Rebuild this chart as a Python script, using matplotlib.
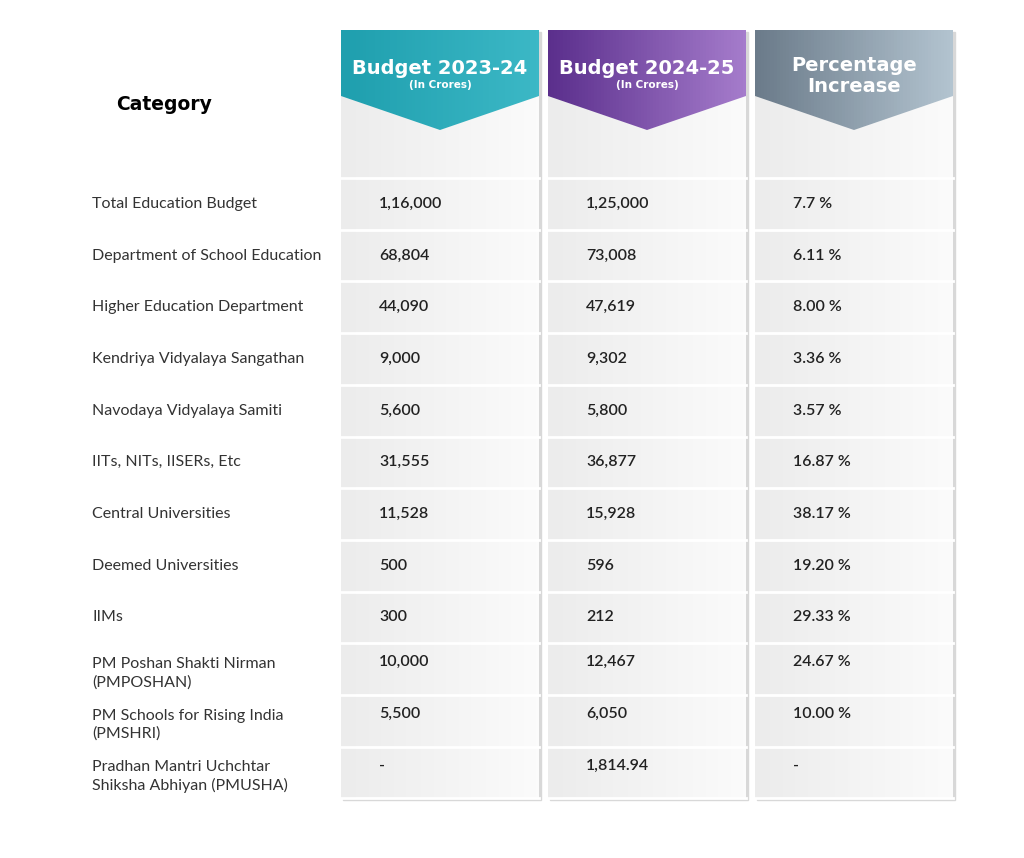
import numpy as np
import matplotlib.pyplot as plt
from matplotlib.patches import Polygon, Rectangle
from matplotlib.colors import LinearSegmentedColormap

categories = [
    "Total Education Budget", "Department of School Education",
    "Higher Education Department", "Kendriya Vidyalaya Sangathan",
    "Navodaya Vidyalaya Samiti", "IITs, NITs, IISERs, Etc",
    "Central Universities", "Deemed Universities", "IIMs",
    "PM Poshan Shakti Nirman\n(PMPOSHAN)", "PM Schools for Rising India\n(PMSHRI)",
    "Pradhan Mantri Uchchtar\nShiksha Abhiyan (PMUSHA)",
]
budget_2023 = ["1,16,000", "68,804", "44,090", "9,000", "5,600", "31,555",
               "11,528", "500", "300", "10,000", "5,500", "-"]
budget_2024 = ["1,25,000", "73,008", "47,619", "9,302", "5,800", "36,877",
               "15,928", "596", "212", "12,467", "6,050", "1,814.94"]
pct_increase = ["7.7 %", "6.11 %", "8.00 %", "3.36 %", "3.57 %", "16.87 %",
                "38.17 %", "19.20 %", "29.33 %", "24.67 %", "10.00 %", "-"]

headers = [("Budget 2023-24", "(In Crores)"), ("Budget 2024-25", "(In Crores)"),
           ("Percentage\nIncrease", None)]
head_colors = [("#1f9fae", "#3cb8c6"), ("#5b2f8c", "#a57ccc"), ("#6b7b8a", "#b3c4d0")]
col_x = [341, 548, 755]
col_w = 198
top, row0, row_h, n = 30, 178, 51.7, len(categories)
bottom = row0 + row_h * n

fig = plt.figure(figsize=(10.24, 8.58), dpi=100)
ax = fig.add_axes([0, 0, 1, 1])
ax.set_xlim(0, 1024)
ax.set_ylim(858, 0)
ax.axis("off")


def gradient(x0, x1, y0, y1, c0, c1, clip, z):
    cmap = LinearSegmentedColormap.from_list("g", [c0, c1])
    im = ax.imshow(np.linspace(0, 1, 64).reshape(1, -1), cmap=cmap, aspect="auto",
                   extent=(x0, x1, y1, y0), zorder=z)
    im.set_clip_path(clip)


for i, x in enumerate(col_x):
    # shadow
    ax.add_patch(Rectangle((x + 2, top + 2), col_w, bottom - top, color="#d8d8d8", zorder=1))
    body = Rectangle((x, top), col_w, bottom - top, facecolor="none", edgecolor="none", zorder=2)
    ax.add_patch(body)
    gradient(x, x + col_w, top, bottom, "#ececec", "#fbfbfb", body, 2)
    for r in range(n + 1):
        y = row0 + r * row_h
        ax.plot([x, x + col_w], [y, y], color="white", lw=2, zorder=3)
    arrow = Polygon([(x, top), (x + col_w, top), (x + col_w, 96),
                     (x + col_w / 2, 130), (x, 96)], closed=True,
                    facecolor="none", edgecolor="none", zorder=4)
    ax.add_patch(arrow)
    gradient(x, x + col_w, top, 130, head_colors[i][0], head_colors[i][1], arrow, 4)
    title, sub = headers[i]
    cx = x + col_w / 2
    if sub:
        ax.text(cx, 68, title, ha="center", va="center", color="white",
                fontsize=14, fontweight="bold", zorder=5)
        ax.text(cx, 85, sub, ha="center", va="center", color="white", fontsize=7.5,
                fontweight="bold", zorder=5)
    else:
        ax.text(cx, 76, title, ha="center", va="center", color="white",
                fontsize=14, fontweight="bold", linespacing=1.1, zorder=5)

ax.text(116, 105, "Category", ha="left", va="center", fontsize=13.5, fontweight="bold", color="black")

for r in range(n):
    yc = row0 + r * row_h + row_h / 2
    two = "\n" in categories[r]
    ax.text(92, yc + (4 if two else 0), categories[r], ha="left", va="center",
            fontsize=11.5, color="#333333", family="Lato", linespacing=1.35)
    ty = yc - 7 if two else yc
    for x, vals in zip(col_x, [budget_2023, budget_2024, pct_increase]):
        ax.text(x + 38, ty, vals[r], ha="left", va="center", fontsize=11.5,
                color="#222222", family="Lato", fontweight="semibold", zorder=5)

fig.savefig("out.png", dpi=100, facecolor="white")
